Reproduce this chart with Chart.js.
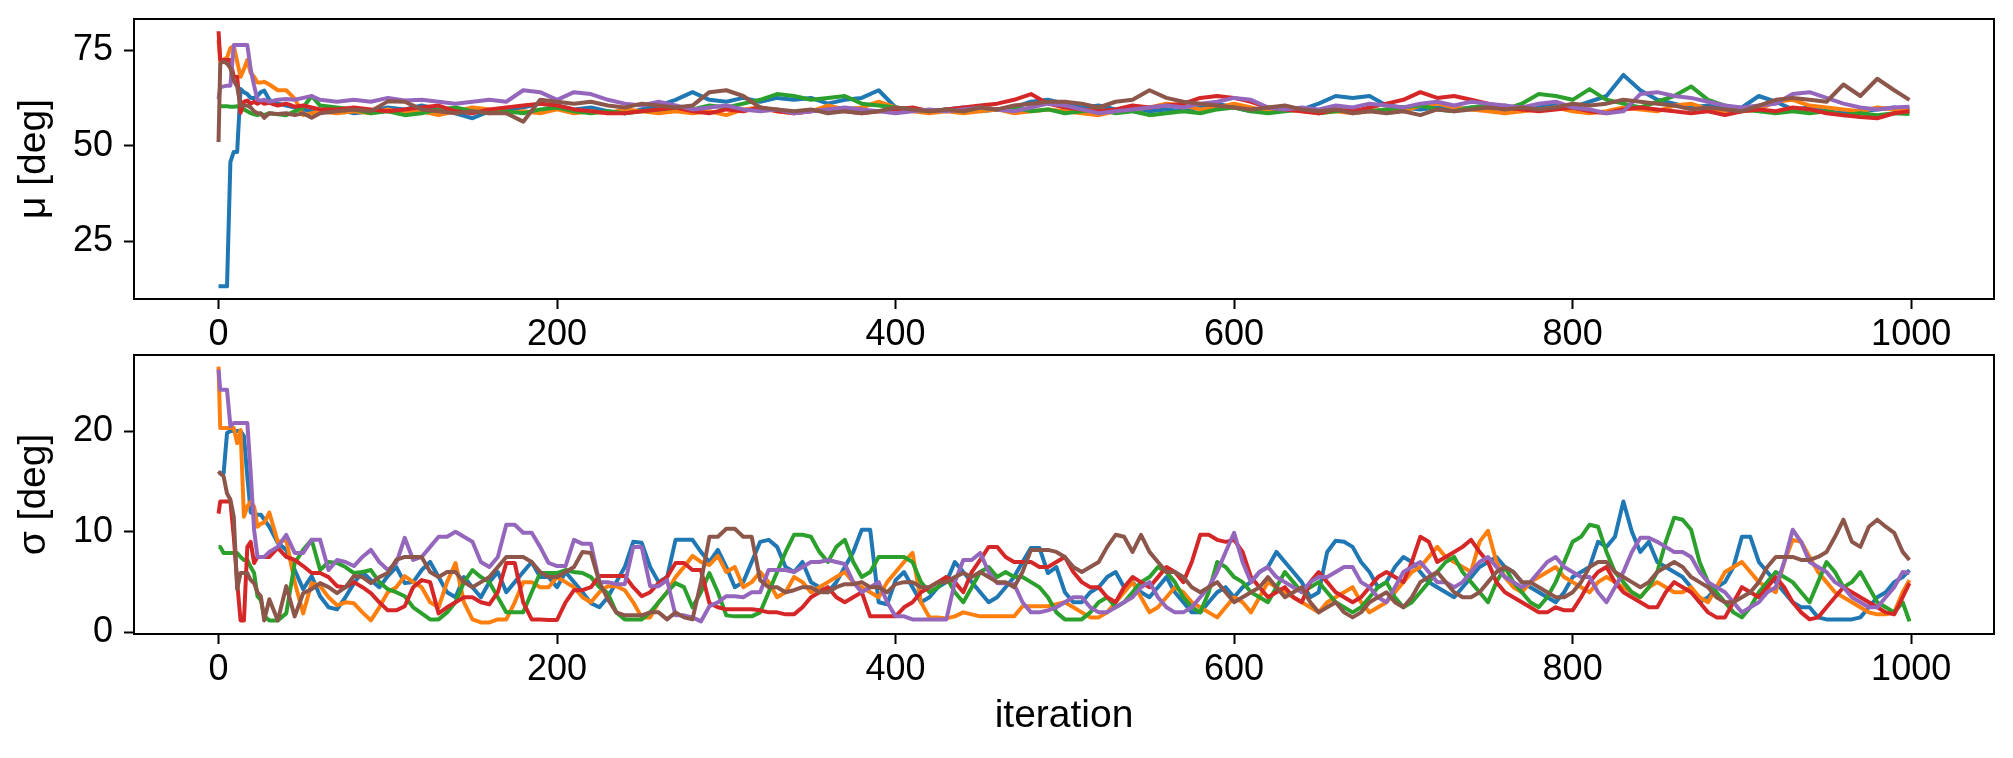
<!DOCTYPE html>
<html>
<head>
<meta charset="utf-8">
<title>Chain traces</title>
<script src="https://cdn.jsdelivr.net/npm/chart.js"></script>
<style>
  body { margin: 0; background: #fff; }
  #top-wrap { position: absolute; left: 0; top: 0; }
  #bottom-wrap { position: absolute; left: 0; top: 345px; }
</style>
</head>
<body>
<div id="top-wrap"><canvas id="mu-chart" width="2013" height="345"></canvas></div>
<div id="bottom-wrap"><canvas id="sigma-chart" width="2013" height="413"></canvas></div>

<script>
var muIterations = [0, 1, 3, 5, 7, 9, 11, 13, 15, 17, 19, 21, 23, 25, 27, 30, 35, 40, 45, 50, 55, 60,
    70, 80, 90, 100, 110, 120, 130, 140, 150, 160,
    170, 180, 190, 200, 210, 220, 230, 240, 250, 260,
    270, 280, 290, 300, 310, 320, 330, 340, 350, 360,
    370, 380, 390, 400, 410, 420, 430, 440, 450, 460,
    470, 480, 490, 500, 510, 520, 530, 540, 550, 560,
    570, 580, 590, 600, 610, 620, 630, 640, 650, 660,
    670, 680, 690, 700, 710, 720, 730, 740, 750, 760,
    770, 780, 790, 800, 810, 820, 830, 840, 850, 860,
    870, 880, 890, 900, 910, 920, 930, 940, 950, 960,
    970, 980, 990, 999];

// sigma panel is read a bit finer
var sigmaIterations = [0, 1, 3, 5, 7, 9, 11, 13, 15, 17, 19, 21, 23, 25, 27, 30, 35, 40, 45, 50, 55, 60,
    65, 70, 75, 80, 85, 90, 95, 100, 105, 110, 115, 120, 125, 130, 135, 140, 145, 150, 155, 160,
    165, 170, 175, 180, 185, 190, 195, 200, 205, 210, 215, 220, 225, 230, 235, 240, 245, 250, 255, 260,
    265, 270, 275, 280, 285, 290, 295, 300, 305, 310, 315, 320, 325, 330, 335, 340, 345, 350, 355, 360,
    365, 370, 375, 380, 385, 390, 395, 400, 405, 410, 415, 420, 425, 430, 435, 440, 445, 450, 455, 460,
    465, 470, 475, 480, 485, 490, 495, 500, 505, 510, 515, 520, 525, 530, 535, 540, 545, 550, 555, 560,
    565, 570, 575, 580, 585, 590, 595, 600, 605, 610, 615, 620, 625, 630, 635, 640, 645, 650, 655, 660,
    665, 670, 675, 680, 685, 690, 695, 700, 705, 710, 715, 720, 725, 730, 735, 740, 745, 750, 755, 760,
    765, 770, 775, 780, 785, 790, 795, 800, 805, 810, 815, 820, 825, 830, 835, 840, 845, 850, 855, 860,
    865, 870, 875, 880, 885, 890, 895, 900, 905, 910, 915, 920, 925, 930, 935, 940, 945, 950, 955, 960,
    965, 970, 975, 980, 985, 990, 995, 999];

var xTicks = [0, 200, 400, 600, 800, 1000];
var muTicks = [25, 50, 75];
var sigmaTicks = [0, 10, 20];

// mu chains [deg]
var muBlue = [13.3, 13.3, 13.3, 13.3, 45.8, 48.4, 48.4, 64.8, 64, 63.5, 62.5, 62.5, 63, 64, 64.4, 62, 61, 60.5, 60, 59.5, 59, 58.8,
    59.5, 58.5, 59, 60, 59.5, 60.5, 59.5, 58.5, 57.2, 59,
    59.5, 60, 61, 60.5, 59.5, 60, 59, 58.5, 59.5, 60.5,
    62, 64, 62, 61.5, 62.5, 61.5, 62.5, 62, 62.5, 61,
    62, 62.5, 64.5, 60, 59.5, 59, 59.5, 60, 59, 59.5,
    60, 61.5, 62, 61, 60, 60.5, 59.5, 60, 59, 59.5,
    59, 60, 61, 60, 59, 59.5, 60, 59.5, 61, 63,
    62.5, 63, 60.5, 60, 59.5, 60, 59.5, 60, 59.5, 60.5,
    59, 60, 61, 60, 61.5, 63, 68.5, 64.5, 62, 61,
    60, 60.5, 59.5, 60, 63, 61.5, 59.5, 60, 59, 58.5,
    59, 59.5, 60, 59.5];
var muOrange = [77.5, 72, 72.5, 73, 75.5, 76, 72, 68, 70, 72.4, 69, 68, 66.5, 66.5, 66.7, 66, 64.5, 64.5, 62.3, 58, 58.5, 59,
    58.5, 59, 58.5, 59.5, 58.5, 59, 58, 59, 60, 59.5,
    58.5, 59, 58.5, 59.5, 58.5, 59, 58.5, 59.5, 59, 58.5,
    59, 58.5, 59, 58, 59.5, 60, 59, 58.5, 59, 60.5,
    59.5, 60, 61.5, 60, 59, 58.5, 59, 58.5, 59, 59.5,
    58.5, 59, 59.5, 59, 58.5, 58, 59, 59.5, 60, 61,
    60.5, 59.5, 60, 61, 60, 59, 59.5, 59, 58.5, 59,
    58.5, 59, 59.5, 59, 60.5, 61, 60, 59.5, 59, 58.5,
    59, 59.5, 60, 59, 58.5, 59, 60, 59.5, 59, 60.5,
    61, 59.5, 58.5, 59, 59.5, 61.5, 62, 60.5, 60, 59.5,
    59, 60, 59.5, 59.5];
var muGreen = [60.5, 60.3, 60.3, 60.3, 60.2, 60.2, 60.3, 60, 59.5, 59, 58.5, 58.2, 58, 58.3, 58, 58.5, 58.2, 58, 59, 60, 63, 60.5,
    60, 59.5, 58.5, 59, 58, 58.5, 59.5, 60, 59, 58.5,
    59, 58.5, 59.5, 60, 59, 58.5, 59, 58.5, 59, 59.5,
    60, 59.5, 60.5, 60, 61, 62, 63.5, 63, 62, 62.5,
    63, 61, 60.5, 60, 59.5, 59, 59.5, 59, 60, 59.5,
    60, 59, 59.5, 58.5, 59, 59.5, 58.5, 59, 58, 58.5,
    59, 58.5, 59.5, 60, 59, 58.5, 59, 59.5, 58.5, 59,
    59.5, 59, 59.5, 60, 60.5, 59.5, 59, 60, 60.5, 59.5,
    61, 63.5, 63, 62, 64.8, 62, 61, 60, 61.5, 63,
    65.5, 62, 60.5, 59.5, 59, 58.5, 59, 58.5, 59, 58,
    58.5, 58, 58.5, 58.3];
var muRed = [79.9, 72.4, 72.4, 72.4, 72.4, 68, 68, 58.6, 61.5, 61.8, 61, 61.5, 61, 61.5, 61, 61.2, 60.5, 61, 60.2, 60.5, 60, 59.5,
    59.5, 60, 59.5, 59, 59.5, 60, 60.5, 59, 58.5, 59.5,
    60, 60.5, 61, 60.5, 59.5, 59, 58.5, 58.5, 59, 59.5,
    60, 59, 58.5, 59.5, 59, 60, 59, 58.5, 59, 59.5,
    59, 58.5, 59, 59.5, 60, 59, 59.5, 60, 60.5, 61,
    62, 63.5, 61, 60, 59.5, 59, 59.5, 60.5, 60, 60.5,
    61, 62.5, 63, 62.5, 61.5, 60, 59.5, 59, 58.5, 59.5,
    59, 60, 61, 62, 64, 62.5, 63, 62, 61, 60,
    59.5, 59, 59.5, 60, 59, 58.5, 59.5, 60, 59.5, 59,
    58.5, 59, 58, 59, 59.5, 59, 60, 59.5, 58.5, 58,
    57.5, 57.2, 58.5, 59];
var muPurple = [62.2, 65.3, 65.5, 65.7, 65.7, 76.3, 76.3, 76.3, 76.3, 76.3, 70, 65.7, 62, 61.8, 62, 61.5, 62, 62.2, 62, 62.5, 63, 62,
    61.5, 62, 61.5, 62.5, 61.8, 62, 61.5, 61, 61.5, 62,
    61.5, 64.5, 64, 62, 64, 63.5, 62, 61, 60.5, 61.5,
    60.5, 59.5, 60, 60.5, 59.5, 59, 59.5, 58.5, 59, 59.5,
    60, 59.5, 59, 58.5, 59, 59.5, 59, 59.5, 60, 59.5,
    59, 60, 61, 60.5, 59.5, 58.5, 59, 59.5, 60, 60.5,
    60, 61, 61.5, 62.5, 62, 60, 59.5, 60, 59.5, 60.5,
    60, 61, 60.5, 60, 61, 61.5, 60.5, 61.5, 61, 60.5,
    60, 61, 61.5, 60, 59.5, 58.5, 59, 63.5, 64, 63,
    62.5, 61.5, 60.5, 60, 60.5, 61, 63.5, 64, 62.5, 61,
    60, 59.5, 60, 60.2];
var muBrown = [51, 71.5, 72, 71.5, 70.3, 67, 65.5, 60.4, 60.5, 60.5, 60, 59, 58.5, 58.5, 57.3, 58.5, 58.3, 58.5, 58, 58.5, 57.3, 58.5,
    59, 59.5, 59, 61.6, 61.5, 59.5, 59, 58.5, 59, 58.5,
    58.5, 56.3, 62, 61.5, 61, 61.5, 60.5, 60, 61, 60.5,
    60, 60.5, 64, 64.5, 63, 60, 59.5, 59, 59.5, 58.5,
    59, 58.5, 59, 60, 59.5, 59, 59.5, 59, 60, 59.5,
    60.5, 61, 61.5, 61.5, 61, 60, 61.5, 62, 64.5, 62.5,
    61.5, 61, 60.5, 60, 59.5, 60, 60.5, 59.5, 59, 59.5,
    58.5, 59, 58.5, 59, 58, 59.5, 59, 59.5, 60, 59.5,
    60, 59.5, 60, 61, 60.5, 61, 62, 61.5, 61, 60.5,
    59.5, 60, 59.5, 59, 60.5, 62, 62.5, 62, 61.5, 66,
    63, 67.5, 64.5, 62];

// sigma chains [deg]
var sigmaBlue = [15.8, 15.8, 15.8, 19.8, 20, 20, 20, 20, 19.5, 15.5, 11.9, 11.8, 11.7, 11.7, 11.2, 10.5, 8.9, 8.2, 6.2, 4.3, 5.6, 3.6,
    2.5, 2.3, 3.5, 4.9, 6, 5.2, 4.5, 5.6, 6.5, 4.9, 5, 6.2, 7, 5.5, 4, 3.5, 5.5, 4.5, 3.5, 5,
    6, 4, 5, 6, 7, 5.5, 5.5, 4.5, 6, 5, 4, 2.9, 2.5, 3.5, 5, 6.5, 9, 8.9, 6.5, 5,
    5.5, 9.2, 9.2, 9.2, 8, 7, 8.2, 6.5, 4.5, 5, 7, 9, 9.2, 8.5, 6.5, 6, 7, 5, 4.5, 4,
    5, 6.5, 8, 10.2, 10.2, 3, 2.8, 5.2, 6, 4.5, 3, 3.5, 4.5, 5, 7, 6, 5, 4, 3, 3.5,
    4.5, 5.5, 7, 8.4, 8.4, 5.9, 6.5, 4, 3, 3, 4, 4.5, 5.5, 6, 4.5, 5, 4, 3.5, 4.5, 5.5,
    4, 3, 2, 2, 3, 4, 4.5, 3.5, 4.5, 5, 6, 6.5, 8, 7, 6, 5, 3.5, 4, 8, 9.1,
    9, 8.5, 7, 6, 4.5, 5, 6.5, 7.5, 7, 6, 5, 4.5, 4, 3.5, 4.5, 5.5, 6.5, 7, 7.5, 6.5,
    6, 5, 4.5, 4, 3.5, 3, 4, 5.5, 6, 6.5, 9, 8.5, 9.5, 13, 10, 8, 9, 7, 6.5, 6,
    5.5, 4.5, 3, 3.5, 4.5, 5, 6.5, 9.5, 9.5, 7, 6, 5, 4, 3, 2.5, 2.5, 1.5, 1.3, 1.3, 1.3,
    1.3, 1.5, 2.5, 3.5, 4, 5, 5.5, 6.2];
var sigmaOrange = [26.4, 20.3, 20.3, 20.3, 20.3, 20.3, 18.8, 20.1, 11.5, 12.5, 13, 12.5, 10.5, 10.8, 10.9, 11.9, 9, 9.2, 5, 1.9, 4.9, 4.6,
    3.5, 2.7, 3, 2.9, 2, 1.2, 2.5, 4, 4.5, 5.6, 5, 4.5, 3, 2.5, 5, 6.9, 3, 1.3, 1, 1,
    1.3, 1.3, 3, 5, 5, 4.5, 4.5, 5.5, 5, 4.5, 3.5, 3, 4, 4.6, 4.6, 4.2, 3, 1.5, 1.5, 3,
    4, 5.5, 6.5, 7.6, 7, 6.7, 7.6, 6, 6.5, 4.5, 5, 6, 5, 3.5, 4, 5.5, 5, 4, 4.5, 5,
    5.5, 6, 5, 4.5, 4, 3.5, 5, 6, 7, 7.9, 3, 1.5, 1.5, 1.4, 1.6, 2, 1.8, 1.6, 1.6, 1.6,
    1.6, 1.6, 2.6, 2.6, 2.6, 2.6, 2.8, 3, 2.5, 2, 1.5, 1.5, 2, 3, 4, 5, 3.5, 2, 2.5, 3.5,
    4.5, 4, 3, 2.5, 2, 1.5, 2.5, 3.5, 3, 2, 3.5, 5, 4.5, 4, 3.5, 3, 2.5, 2, 3, 3.5,
    4, 4.5, 3, 2, 2.5, 3, 4, 5, 6, 6.5, 7.5, 8.5, 7.5, 7, 6.5, 6, 9, 10.1, 7, 5.5,
    4.5, 4, 5, 5.5, 6, 6.5, 5.5, 5, 4.5, 4, 5, 5.5, 5, 4.5, 4, 3.5, 4.5, 5, 4.5, 4,
    4, 4.5, 3.5, 3, 4.5, 6, 6.5, 7, 6, 5, 4.5, 4, 7, 9.2, 9, 7.5, 6, 5, 4, 3.5,
    3, 2.5, 2, 1.8, 1.8, 2, 4, 5.2];
var sigmaGreen = [8.5, 8.5, 7.9, 7.9, 7.9, 7.9, 7.9, 7.5, 7.2, 7.2, 6.5, 5.9, 3.6, 3.2, 1.6, 1.2, 1.2, 1.9, 6.9, 8.2, 9.2, 6.2,
    7, 6.9, 6.5, 5.9, 6, 6.2, 5, 4.3, 4, 3.6, 2.5, 1.9, 1.3, 1.3, 2, 3, 5, 6.2, 5.5, 5,
    3.5, 2, 2, 2, 4, 5.9, 5.9, 5.9, 6.2, 6, 5.9, 5.5, 4.5, 3.9, 2, 1.3, 1.3, 1.3, 2, 3,
    4, 4.9, 4.5, 2.5, 4, 5.9, 4, 1.7, 1.6, 1.6, 1.6, 2, 4, 6, 8, 9.7, 9.7, 9.5, 8, 7,
    8.5, 9.2, 7, 5.5, 6, 7.5, 7.5, 7.5, 7.5, 7, 5, 4, 4.5, 5.5, 4, 3, 4.5, 6, 6.5, 5.5,
    6, 5.5, 5.5, 5, 4.5, 3.5, 2, 1.3, 1.3, 1.3, 2, 3, 3.5, 2.5, 3, 4, 5, 5.5, 6.5, 6,
    5, 3.5, 2.5, 2, 4, 7, 6.5, 5.5, 5, 4, 3.5, 3, 4.5, 6, 5, 4, 4.5, 5, 4, 3,
    2.5, 2, 2.5, 3.5, 4.5, 5, 3.5, 2.5, 3, 4, 5, 6, 7, 7.5, 6, 5, 4, 3, 5, 6.5,
    5, 4, 3, 2.5, 3.5, 5, 7, 9, 9.5, 10.7, 10.5, 8, 6, 5, 4, 3.5, 4.5, 6, 9, 11.4,
    11.2, 10.2, 7, 5, 4, 3, 2, 1.5, 2.5, 4, 5, 6, 5.5, 5, 4, 3, 5, 7, 6, 4.5,
    5, 6, 4.5, 3, 2.5, 2, 3, 1.1];
var sigmaRed = [11.8, 13, 13, 13, 13, 9.5, 5, 1.2, 1.2, 8.5, 9, 6.9, 7.5, 7.5, 7.5, 7.5, 8.4, 7.5, 7.2, 6.6, 5.9, 5.9,
    5.5, 4.6, 4.5, 5, 4.5, 3.9, 3, 2.2, 2.2, 2.6, 4.5, 5.2, 5, 1.9, 2.5, 3, 3.5, 3.5, 3, 2.8,
    4, 6.9, 6.9, 3, 1.3, 1.3, 1.25, 1.25, 3, 4.2, 4.2, 4.5, 5.6, 5.6, 5.6, 5.6, 4.5, 3.6, 4, 4.9,
    5.5, 6.9, 6.9, 6.2, 6.2, 2.9, 2.5, 2.3, 2.3, 2.3, 2.3, 2.2, 2, 2, 1.8, 1.8, 2.5, 3.5, 4, 4.5,
    3.5, 3, 3.5, 4, 1.6, 1.6, 1.6, 1.6, 2.5, 3, 4, 4.5, 5, 5.5, 5, 4, 6, 7.2, 8.5, 8.5,
    7.5, 7, 7, 7, 6.5, 6.5, 7, 7.5, 6, 5, 4.5, 4.5, 3.5, 3, 4.5, 5.5, 5, 4.5, 5.5, 6.5,
    6, 5, 7, 9.7, 9.7, 9.2, 9, 9.2, 8, 5.5, 4.5, 3.5, 4, 4.5, 3.5, 3, 5, 6, 5, 4,
    3.5, 3, 3.5, 4.5, 5.5, 6, 5.5, 5, 7, 9.5, 9, 7, 7.5, 8, 8.5, 9.2, 8, 7, 5, 4,
    3.5, 3, 2.5, 2, 2, 2.5, 2.2, 2.2, 3.5, 5, 6, 6.5, 5, 4, 3.5, 3, 2.5, 2.5, 4, 5,
    4.5, 4, 3, 2, 1.5, 1.5, 3, 4.5, 4, 3.5, 4.5, 5.5, 4.5, 3, 2, 1.3, 1.5, 2.5, 3.5, 4.5,
    4, 3.5, 3, 2.5, 2, 1.8, 3.5, 4.9];
var sigmaPurple = [26.1, 24.1, 24.1, 24.1, 20.5, 20.8, 20.8, 20.8, 20.8, 20.8, 15.8, 10.2, 7.5, 7.5, 7.5, 8, 8.5, 9.7, 7.9, 7.9, 9.2, 9.2,
    6.2, 7.2, 7, 6.6, 7.5, 8.2, 7, 6.2, 6.9, 9.4, 7.2, 7.5, 8.5, 9.5, 9.5, 10, 9.5, 9, 7, 6.5,
    7.5, 10.7, 10.7, 9.9, 9.9, 8.5, 6.9, 6.6, 6.6, 9.2, 8.8, 8.8, 5, 5, 4.8, 4.8, 8.5, 8.5, 4.6, 4.6,
    5.2, 1.7, 1.7, 1.5, 1.1, 2.6, 3, 3.6, 3.6, 3.5, 4, 4, 6.2, 6.2, 6.2, 6, 6.5, 7, 7, 7.2,
    7, 6.8, 5, 4, 4.5, 5, 3, 1.6, 1.6, 1.3, 1.3, 1.3, 1.3, 1.3, 5, 7.2, 7.2, 7.9, 6, 4.9,
    4.9, 4.8, 3, 2, 2, 2.2, 2.5, 3, 3.5, 3.5, 2.5, 2, 2, 2.5, 3, 3.5, 4.5, 5, 3.5, 2.5,
    2, 2, 2.5, 3.5, 4.5, 6, 8, 9.9, 7, 5, 6, 6.5, 5.5, 5, 4.5, 4, 5, 5.5, 5.5, 6,
    6.5, 6.5, 5, 4.5, 3.5, 3, 4.5, 6, 6.5, 7, 6, 5, 5, 4.5, 5, 6, 7, 7.5, 6.5, 5.5,
    5, 4.5, 5, 6, 7, 7.5, 6.5, 6, 5.5, 5.5, 4, 3, 4.5, 6, 8, 9.4, 9.4, 9, 8.5, 8,
    8, 7.5, 6, 5, 4.5, 4, 3, 2, 2.5, 3, 4, 4.5, 7, 10.2, 9, 7, 6.5, 6, 5, 4.5,
    3.5, 3, 2.5, 2.5, 3.5, 4.5, 6, 5.9];
var sigmaBrown = [16, 15.8, 15.5, 13.8, 13.2, 11.5, 4.3, 5.9, 5.9, 5.9, 5.2, 4.9, 4, 3.6, 1.2, 3.3, 1.2, 4.6, 1.6, 3.9, 4.3, 4.9,
    4.5, 3.9, 4.5, 5.6, 5.5, 4.9, 5.5, 5.9, 7.2, 7.5, 7.5, 7.5, 6, 5.5, 6, 6, 5, 4.5, 5, 5.5,
    6.5, 7.5, 7.5, 7.5, 7, 6, 5.5, 5.5, 6, 6.5, 8, 7.9, 5, 3.3, 2, 1.7, 1.7, 1.7, 2, 2,
    1.3, 2, 1.5, 1.3, 5, 9.5, 9.5, 10.3, 10.3, 9.5, 9.5, 5.2, 4.5, 4.5, 4, 4.2, 4.5, 4.5, 4, 4,
    4.5, 4.8, 4.8, 5, 4.5, 4.5, 4, 4.8, 5, 5, 4.5, 4.5, 5, 5, 5.5, 5.9, 5.5, 6, 5.5, 5,
    5, 4.5, 6, 8.2, 8.2, 8.2, 8, 7.5, 6.5, 6, 6.5, 7, 8.5, 9.7, 9.5, 8, 9.7, 8, 7, 6,
    6, 5.5, 4.5, 4, 4.5, 5, 4, 3, 3.5, 4, 4.5, 5.5, 4.5, 3.5, 4, 4.5, 3, 2, 2.5, 3,
    2, 1.5, 2, 3, 3.5, 4, 3, 2.5, 3.5, 5, 5.5, 6, 5, 4, 3.5, 3.5, 4, 5, 6, 6.5,
    6, 5, 5, 4.5, 4, 3.5, 3.5, 4, 5, 6.5, 7, 7, 6, 5.5, 5, 4.5, 5, 6, 6.5, 7,
    6.5, 5.5, 5, 4.5, 3.5, 3, 3, 3.5, 4, 5, 6.5, 7.5, 7.5, 7.5, 7.2, 7.2, 7.5, 8, 9.5, 11.2,
    9, 8.5, 10.5, 11.2, 10.5, 9.9, 8, 7.2];

var chainColors = ['#1f77b4', '#ff7f0e', '#2ca02c', '#d62728', '#9467bd', '#8c564b'];

var tickFont = { family: "'Liberation Sans', Arial, sans-serif", size: 36 };
var titleFont = { family: "'Liberation Sans', Arial, sans-serif", size: 39 };

// matplotlib-style box round the plot area
var framePlugin = {
    id: 'frame',
    afterDraw: function (chart) {
        var a = chart.chartArea;
        var ctx = chart.ctx;
        ctx.save();
        ctx.strokeStyle = '#000';
        ctx.lineWidth = 2;
        ctx.strokeRect(a.left, a.top, a.right - a.left, a.bottom - a.top);
        ctx.restore();
    }
};

function makeTraceChart(canvasId, xs, chains, yLabel, yTicks, yMin, yMax, xTitle, padTop, xAxisHeight) {
    var datasets = chains.map(function (vals, i) {
        if (vals.length !== xs.length) console.warn(canvasId + ' chain ' + i + ': ' + vals.length + ' vs ' + xs.length);
        return {
            data: xs.map(function (it, j) { return { x: it, y: vals[j] }; }),
            borderColor: chainColors[i],
            backgroundColor: chainColors[i],
            borderWidth: 4,
            borderJoinStyle: 'round',
            pointRadius: 0,
            tension: 0,
            fill: false,
            order: chains.length - i // later chains drawn on top, as in the original
        };
    });

    var axisGrid = { drawOnChartArea: false, tickLength: 10, tickWidth: 2, tickColor: '#000' };
    var axisBorder = { color: '#000', width: 2 };

    return new Chart(document.getElementById(canvasId), {
        type: 'line',
        data: { datasets: datasets },
        plugins: [framePlugin],
        options: {
            responsive: false,
            animation: false,
            events: [],
            layout: { padding: { left: 0, right: 19, top: padTop, bottom: 0 } },
            plugins: { legend: { display: false }, tooltip: { enabled: false } },
            scales: {
                x: {
                    type: 'linear',
                    min: -49.95,
                    max: 1048.95,
                    afterBuildTicks: function (scale) {
                        scale.ticks = xTicks.map(function (v) { return { value: v }; });
                    },
                    afterFit: function (scale) {
                        scale.height = xAxisHeight;
                        scale.paddingLeft = 0;
                        scale.paddingRight = 0;
                    },
                    grid: axisGrid,
                    border: axisBorder,
                    ticks: {
                        color: '#000', font: tickFont, padding: 4, maxRotation: 0, autoSkip: false,
                        callback: function (v) { return String(v); }
                    },
                    title: {
                        display: !!xTitle, text: xTitle || '', color: '#000', font: titleFont,
                        padding: { top: 0, bottom: 18 }
                    }
                },
                y: {
                    type: 'linear',
                    min: yMin,
                    max: yMax,
                    afterBuildTicks: function (scale) {
                        scale.ticks = yTicks.map(function (v) { return { value: v }; });
                    },
                    afterFit: function (scale) {
                        scale.width = 134;
                        scale.paddingTop = 0;
                        scale.paddingBottom = 0;
                    },
                    grid: axisGrid,
                    border: axisBorder,
                    ticks: {
                        color: '#000', font: tickFont, padding: 11,
                        callback: function (v) { return String(v); }
                    },
                    title: {
                        display: true, text: yLabel, color: '#000', font: titleFont,
                        padding: { top: 11, bottom: 0 }
                    }
                }
            }
        }
    });
}

makeTraceChart('mu-chart', muIterations,
    [muBlue, muOrange, muGreen, muRed, muPurple, muBrown],
    'μ [deg]', muTicks, 10.0, 83.1, null, 19, 46);

makeTraceChart('sigma-chart', sigmaIterations,
    [sigmaBlue, sigmaOrange, sigmaGreen, sigmaRed, sigmaPurple, sigmaBrown],
    'σ [deg]', sigmaTicks, -0.15, 27.55, 'iteration', 10, 124);
</script>
</body>
</html>
